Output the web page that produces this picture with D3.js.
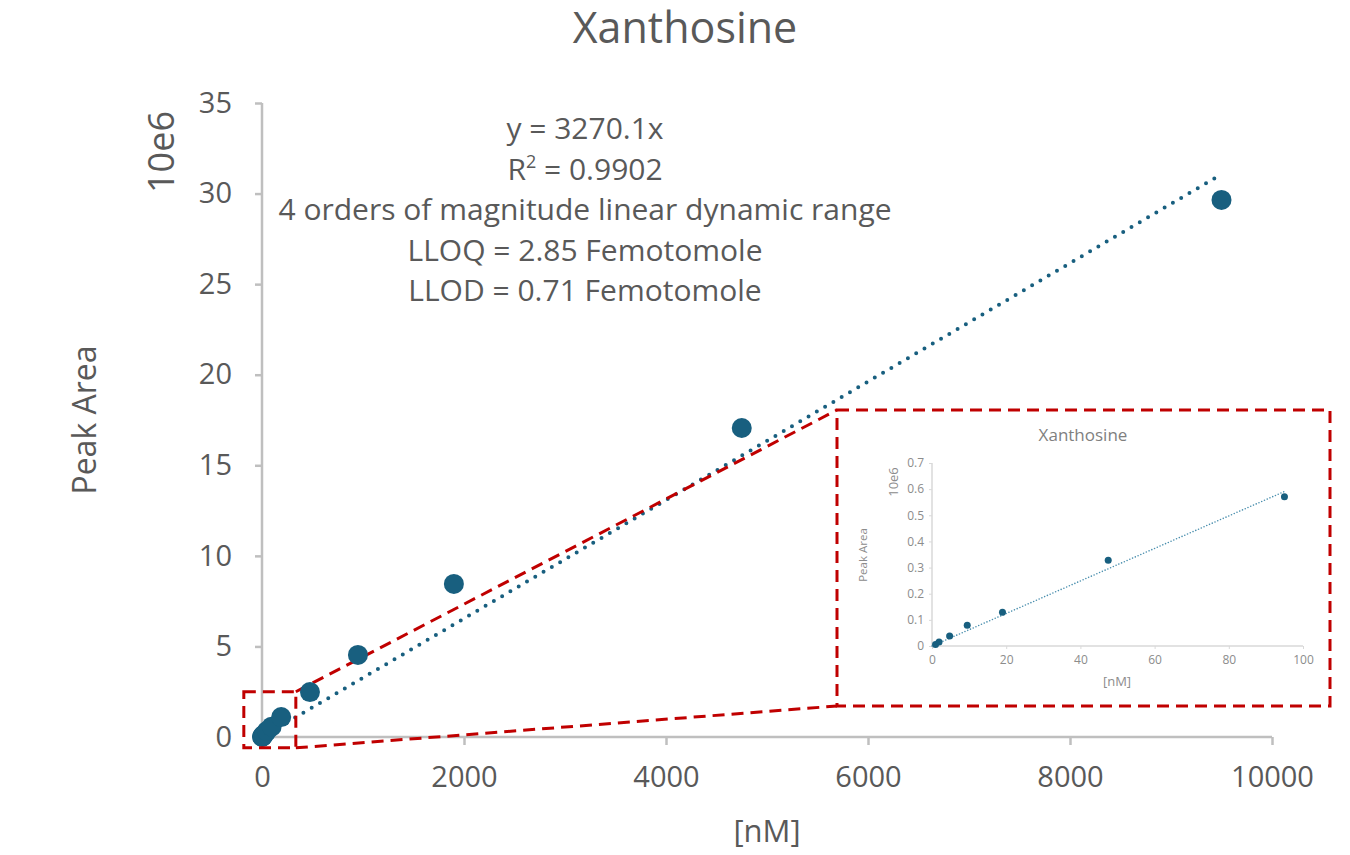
<!DOCTYPE html>
<html>
<head>
<meta charset="utf-8">
<script src="https://cdn.jsdelivr.net/npm/d3@7"></script>
<style>
  body { margin: 0; background: #fff; }
  text { font-family: "Open Sans", sans-serif; }
</style>
</head>
<body>
<div id="chart"></div>
<script>
const width = 1350;
const height = 855;

// calibration points: concentration [nM] and peak area (x 10e6)
const conc = [0.95, 1.9, 4.75, 9.5, 19, 47.5, 95, 190, 475, 950, 1900, 4750, 9500];
const area = [0.006, 0.015, 0.038, 0.079, 0.129, 0.328, 0.571, 1.10, 2.48, 4.53, 8.45, 17.06, 29.65];
const slope = 0.0032701;        // y = 3270.1x
const insetSlope = 0.00622;     // low range fit
const xTicks = [0, 2000, 4000, 6000, 8000, 10000];
const yTicks = [0, 5, 10, 15, 20, 25, 30, 35];
const insetXTicks = [0, 20, 40, 60, 80, 100];
const insetYTicks = [0, 0.1, 0.2, 0.3, 0.4, 0.5, 0.6, 0.7];
const notes = ['y = 3270.1x', 'R2 = 0.9902', '4 orders of magnitude linear dynamic range',
               'LLOQ = 2.85 Femotomole', 'LLOD = 0.71 Femotomole'];

const pts = conc.map((c, i) => ({x: c, y: area[i]}));

const blue = '#185f7f';
const red = '#c00000';
const axisGrey = '#bfbfbf';
const textGrey = '#595959';

const svg = d3.select('#chart')
              .append('svg')
              .attr('width', width)
              .attr('height', height);

const m = {left: 262, right: 1272, top: 103, bottom: 737};

const x = d3.scaleLinear().domain([0, 10000]).range([m.left, m.right]);
const y = d3.scaleLinear().domain([0, 35]).range([m.bottom, m.top]);

// title
svg.append('text')
   .attr('x', 685).attr('y', 43)
   .attr('text-anchor', 'middle')
   .attr('font-size', 43)
   .attr('fill', textGrey)
   .text('Xanthosine');

// axes
const xAxis = svg.append('g')
   .attr('transform', `translate(0,${m.bottom})`)
   .call(d3.axisBottom(x).tickValues(xTicks).tickSize(8).tickPadding(21).tickFormat(d3.format('d')));
const yAxis = svg.append('g')
   .attr('transform', `translate(${m.left},0)`)
   .call(d3.axisLeft(y).tickValues(yTicks).tickSize(7).tickPadding(23));

[xAxis, yAxis].forEach(g => {
  g.select('.domain').attr('stroke', axisGrey).attr('stroke-width', 2.5);
  g.selectAll('.tick line').attr('stroke', axisGrey).attr('stroke-width', 2.5);
  g.selectAll('.tick text').attr('fill', textGrey).attr('font-size', 29)
   .attr('font-family', '"Open Sans", sans-serif');
});
// plain axis lines without end ticks
xAxis.select('.domain').attr('d', `M${m.left},0H${m.right}`);
yAxis.select('.domain').attr('d', `M0,${m.bottom}V${m.top}`);

svg.append('text')
   .attr('x', (m.left + m.right) / 2).attr('y', 842)
   .attr('text-anchor', 'middle')
   .attr('font-size', 31).attr('fill', textGrey)
   .text('[nM]');

svg.append('text')
   .attr('transform', `translate(96,${(m.top + m.bottom) / 2}) rotate(-90)`)
   .attr('text-anchor', 'middle')
   .attr('font-size', 32).attr('fill', textGrey)
   .text('Peak Area');

svg.append('text')
   .attr('transform', `translate(174,152) rotate(-90)`)
   .attr('text-anchor', 'middle')
   .attr('font-size', 36).attr('fill', textGrey)
   .text('10e6');

// annotation text
const note = svg.append('g').attr('fill', textGrey).attr('font-size', 30).attr('text-anchor', 'middle');
notes.forEach((t, i) => {
  const tx = note.append('text').attr('x', 585).attr('y', 139 + i * 40.5);
  if (t.startsWith('R2')) {
    tx.append('tspan').text('R');
    tx.append('tspan').attr('dy', -12).attr('font-size', 18).text('2');
    tx.append('tspan').attr('dy', 12).text(' = 0.9902');
  } else {
    tx.text(t);
  }
});

// trend line (dotted)
svg.append('line')
   .attr('x1', x(0)).attr('y1', y(0))
   .attr('x2', x(9500)).attr('y2', y(9500 * slope))
   .attr('stroke', blue).attr('stroke-width', 4)
   .attr('stroke-dasharray', '0 9.6').attr('stroke-linecap', 'round');

// inset frame and zoom box (small box given in data coords)
const inset = {x0: 837, y0: 410, x1: 1330, y1: 706};
const zb = {x0: x(-180), x1: x(335), y0: y(2.5), y1: y(-0.6)};

const dash = g => g.attr('fill', 'none').attr('stroke', red).attr('stroke-width', 3).attr('stroke-dasharray', '12 7');

svg.append('rect').attr('x', inset.x0).attr('y', inset.y0)
   .attr('width', inset.x1 - inset.x0).attr('height', inset.y1 - inset.y0).call(dash);
svg.append('line').attr('x1', zb.x1).attr('y1', zb.y0).attr('x2', inset.x0).attr('y2', inset.y0).call(dash);
svg.append('line').attr('x1', zb.x1).attr('y1', zb.y1).attr('x2', inset.x0).attr('y2', inset.y1).call(dash);

// data points
svg.append('g').selectAll('circle')
   .data(pts).enter()
   .append('circle')
   .attr('cx', d => x(d.x)).attr('cy', d => y(d.y))
   .attr('r', 10).attr('fill', blue);

svg.append('rect').attr('x', zb.x0).attr('y', zb.y0)
   .attr('width', zb.x1 - zb.x0).attr('height', zb.y1 - zb.y0).call(dash);

// ---- inset chart ----
const ix = d3.scaleLinear().domain([0, 100]).range([932, 1303]);
const iy = d3.scaleLinear().domain([0, 0.7]).range([646, 463]);
const ig = svg.append('g');
const insetGrey = '#8c8c8c';

ig.append('text').attr('x', 1083).attr('y', 441).attr('text-anchor', 'middle')
  .attr('font-size', 17).attr('fill', '#7f7f7f').text('Xanthosine');

const ixA = ig.append('g').attr('transform', `translate(0,${iy(0)})`)
  .call(d3.axisBottom(ix).tickValues(insetXTicks).tickSize(3).tickPadding(6));
const iyA = ig.append('g').attr('transform', `translate(${ix(0)},0)`)
  .call(d3.axisLeft(iy).tickValues(insetYTicks).tickSize(3).tickPadding(5).tickFormat(d => d === 0 ? '0' : d3.format('.1f')(d)));
[ixA, iyA].forEach(g => {
  g.select('.domain').attr('stroke', '#d9d9d9').attr('stroke-width', 1.5);
  g.selectAll('.tick line').attr('stroke', '#d9d9d9');
  g.selectAll('.tick text').attr('fill', insetGrey).attr('font-size', 12)
   .attr('font-family', '"Open Sans", sans-serif');
});
ixA.select('.domain').attr('d', `M${ix(0)},0H${ix(100)}`);
iyA.select('.domain').attr('d', `M0,${iy(0)}V${iy(0.7)}`);

ig.append('text').attr('x', 1117).attr('y', 686).attr('text-anchor', 'middle')
  .attr('font-size', 13).attr('fill', insetGrey).text('[nM]');
ig.append('text').attr('transform', `translate(867,555) rotate(-90)`).attr('text-anchor', 'middle')
  .attr('font-size', 11.5).attr('fill', insetGrey).text('Peak Area');
ig.append('text').attr('transform', `translate(898,482) rotate(-90)`).attr('text-anchor', 'middle')
  .attr('font-size', 13).attr('fill', insetGrey).text('10e6');

ig.append('line')
  .attr('x1', ix(0)).attr('y1', iy(0))
  .attr('x2', ix(95)).attr('y2', iy(95 * insetSlope))
  .attr('stroke', '#4a8fae').attr('stroke-width', 1.6)
  .attr('stroke-dasharray', '0 3').attr('stroke-linecap', 'round');

ig.append('g').selectAll('circle')
  .data(pts.filter(d => d.x <= 100)).enter()
  .append('circle')
  .attr('cx', d => ix(d.x)).attr('cy', d => iy(d.y))
  .attr('r', 3.5).attr('fill', blue);
</script>
</body>
</html>
